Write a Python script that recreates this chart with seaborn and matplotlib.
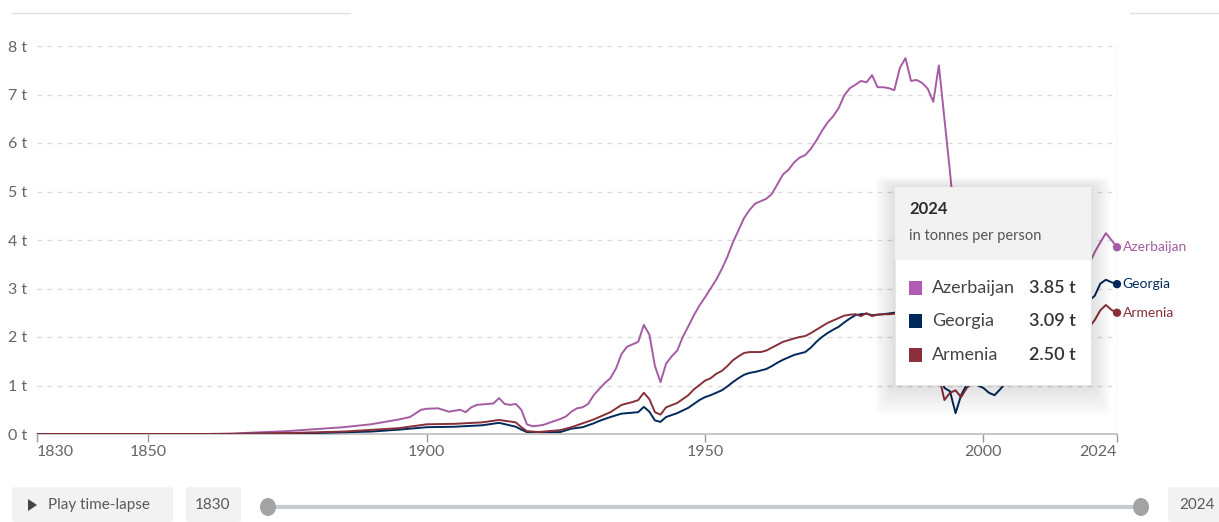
import pandas as pd
import seaborn as sns
import matplotlib.pyplot as plt
from matplotlib.patches import FancyBboxPatch, Rectangle, Polygon, Ellipse
from matplotlib.lines import Line2D

# CO2 per person, tonnes
aze_years = [1830, 1860, 1865, 1875, 1885, 1890, 1895, 1897, 1899, 1900, 1902, 1904, 1906, 1907, 1908,
             1909, 1911, 1912, 1913, 1914, 1915, 1916, 1917, 1918, 1919, 1920, 1921, 1922, 1923, 1924,
             1925, 1926, 1927, 1928, 1929, 1930, 1931, 1932, 1933, 1934, 1935, 1936, 1937, 1938, 1939,
             1940, 1941, 1942, 1943, 1944, 1945, 1946, 1947, 1948, 1949, 1950, 1951, 1952, 1953, 1954,
             1955, 1956, 1957, 1958, 1959, 1960, 1961, 1962, 1963, 1964, 1965, 1966, 1967, 1968, 1969,
             1970, 1971, 1972, 1973, 1974, 1975, 1976, 1977, 1978, 1979, 1980, 1981, 1982, 1983, 1984,
             1985, 1986, 1987, 1988, 1989, 1990, 1991, 1992, 1993, 1994, 1995, 1996, 1997, 1998, 2000,
             2002, 2004, 2006, 2008, 2010, 2012, 2014, 2016, 2018, 2019, 2020, 2021, 2022, 2023, 2024]
aze_values = [0, 0, 0.01, 0.06, 0.14, 0.2, 0.3, 0.35, 0.5, 0.52, 0.53, 0.46, 0.5, 0.45, 0.55,
              0.6, 0.62, 0.63, 0.74, 0.62, 0.6, 0.62, 0.5, 0.2, 0.16, 0.17, 0.19, 0.23, 0.27, 0.31,
              0.36, 0.46, 0.53, 0.55, 0.62, 0.8, 0.93, 1.05, 1.15, 1.35, 1.65, 1.8, 1.85, 1.9, 2.25,
              2.05, 1.4, 1.07, 1.45, 1.6, 1.72, 2.0, 2.22, 2.45, 2.65, 2.82, 3.0, 3.18, 3.4, 3.65,
              3.95, 4.2, 4.45, 4.62, 4.75, 4.8, 4.85, 4.95, 5.15, 5.35, 5.45, 5.6, 5.7, 5.75, 5.88,
              6.05, 6.25, 6.42, 6.55, 6.72, 6.98, 7.13, 7.2, 7.28, 7.25, 7.4, 7.15, 7.15, 7.13, 7.09,
              7.55, 7.75, 7.28, 7.3, 7.24, 7.12, 6.85, 7.6, 6.5, 5.4, 4.2, 3.7, 3.5, 3.6, 3.55,
              3.6, 3.9, 4.1, 3.6, 3.3, 3.5, 3.7, 3.75, 3.6, 3.5, 3.75, 3.95, 4.14, 4.0, 3.85]

geo_years = [1830, 1865, 1880, 1890, 1895, 1900, 1905, 1910, 1913, 1916, 1917, 1918, 1924, 1926, 1928,
             1930, 1931, 1933, 1935, 1938, 1939, 1940, 1941, 1942, 1943, 1945, 1947, 1948, 1949, 1950,
             1951, 1952, 1953, 1954, 1955, 1956, 1957, 1958, 1959, 1960, 1961, 1962, 1963, 1964, 1965,
             1966, 1967, 1968, 1969, 1970, 1971, 1972, 1973, 1974, 1975, 1976, 1977, 1978, 1979, 1980,
             1982, 1984, 1986, 1988, 1990, 1991, 1992, 1993, 1994, 1995, 1996, 1997, 1998, 1999, 2000,
             2001, 2002, 2003, 2004, 2006, 2008, 2010, 2012, 2014, 2016, 2018, 2019, 2020, 2021, 2022,
             2023, 2024]
geo_values = [0, 0, 0.02, 0.05, 0.09, 0.14, 0.15, 0.18, 0.23, 0.15, 0.09, 0.04, 0.04, 0.11, 0.14,
              0.22, 0.27, 0.35, 0.42, 0.45, 0.56, 0.46, 0.28, 0.25, 0.35, 0.43, 0.54, 0.62, 0.7, 0.76,
              0.8, 0.85, 0.9, 0.98, 1.07, 1.15, 1.22, 1.26, 1.28, 1.31, 1.34, 1.4, 1.47, 1.53, 1.58,
              1.63, 1.66, 1.69, 1.78, 1.9, 2.0, 2.08, 2.15, 2.21, 2.3, 2.38, 2.45, 2.47, 2.48, 2.45,
              2.47, 2.5, 2.55, 2.6, 2.4, 1.8, 1.3, 0.95, 0.88, 0.43, 0.8, 1.02, 1.1, 1.0, 0.95,
              0.85, 0.8, 0.92, 1.05, 1.3, 1.4, 1.5, 1.9, 2.1, 2.4, 2.6, 2.75, 2.85, 3.1, 3.18,
              3.13, 3.09]

arm_years = [1830, 1865, 1875, 1885, 1895, 1900, 1905, 1910, 1913, 1916, 1917, 1918, 1920, 1924, 1926,
             1928, 1930, 1931, 1933, 1935, 1937, 1938, 1939, 1940, 1941, 1942, 1943, 1945, 1947, 1948,
             1949, 1950, 1951, 1952, 1953, 1954, 1955, 1956, 1957, 1958, 1960, 1961, 1962, 1964, 1966,
             1967, 1968, 1969, 1970, 1971, 1972, 1973, 1974, 1975, 1976, 1977, 1978, 1979, 1980, 1981,
             1982, 1983, 1984, 1986, 1988, 1990, 1991, 1992, 1993, 1994, 1995, 1996, 1997, 1998, 2000,
             2005, 2008, 2010, 2015, 2018, 2019, 2020, 2021, 2022, 2023, 2024]
arm_values = [0, 0, 0.02, 0.05, 0.12, 0.2, 0.21, 0.24, 0.29, 0.24, 0.14, 0.06, 0.04, 0.08, 0.14,
              0.22, 0.3, 0.35, 0.45, 0.6, 0.66, 0.7, 0.85, 0.72, 0.45, 0.4, 0.55, 0.64, 0.8, 0.92,
              1.01, 1.1, 1.15, 1.24, 1.3, 1.4, 1.52, 1.6, 1.67, 1.69, 1.69, 1.72, 1.78, 1.9, 1.97,
              2.0, 2.02, 2.08, 2.15, 2.22, 2.29, 2.34, 2.39, 2.44, 2.46, 2.47, 2.43, 2.49, 2.43, 2.46,
              2.47, 2.47, 2.48, 2.5, 2.5, 2.3, 1.6, 1.2, 0.7, 0.85, 0.9, 0.76, 0.95, 1.05, 1.1,
              1.5, 1.9, 1.5, 1.8, 2.0, 2.2, 2.35, 2.55, 2.66, 2.56, 2.50]

countries = ['Azerbaijan', 'Georgia', 'Armenia']
line_colors = ['#a65ca3', '#00295b', '#883039']
swatch_colors = ['#b25bb5', '#00295b', '#8c2f3c']
x_ticks = [1830, 1850, 1900, 1950, 2000, 2024]
y_ticks = [0, 1, 2, 3, 4, 5, 6, 7, 8]

df = pd.concat([
    pd.DataFrame({'year': aze_years, 'value': aze_values, 'country': 'Azerbaijan'}),
    pd.DataFrame({'year': geo_years, 'value': geo_values, 'country': 'Georgia'}),
    pd.DataFrame({'year': arm_years, 'value': arm_values, 'country': 'Armenia'}),
])
last = df[df['year'] == 2024].set_index('country').loc[countries]

sns.set_style('white')
plt.rcParams['font.family'] = ['Lato', 'DejaVu Sans']
plt.rcParams['lines.scale_dashes'] = False

W, H = 1219, 522
fig = plt.figure(figsize=(W / 100, H / 100), dpi=100)
fig.patch.set_facecolor('white')


def fx(x):
    return x / W


def fy(y):
    return 1 - y / H


ax = fig.add_axes([fx(37), fy(434), fx(1117) - fx(37), fy(46) - fy(434)])
ax.set_facecolor('white')

for v in y_ticks[1:]:
    ax.axhline(v, color='#dcdcdc', lw=1, dashes=(3.6, 3.6), zorder=0)
ax.axvline(2024, color='#e2e2e2', lw=1, zorder=0)

sns.lineplot(data=df, x='year', y='value', hue='country', hue_order=countries,
             palette=line_colors, linewidth=1.4, legend=False, ax=ax, zorder=3)

ax.scatter([2024] * 3, last['value'], s=36, c=line_colors, zorder=5, linewidths=0, clip_on=False)
for c, col in zip(countries, line_colors):
    ax.annotate(c, (2024, last.loc[c, 'value']), xytext=(4, 0), textcoords='offset points',
                ha='left', va='center', fontsize=10, color=col, annotation_clip=False)

ax.set_xlim(1830, 2024)
ax.set_ylim(0, 8)
for s in ['top', 'right', 'left']:
    ax.spines[s].set_visible(False)
ax.spines['bottom'].set_color('#bdbdbd')
ax.spines['bottom'].set_linewidth(1.2)
ax.set_xticks(x_ticks)
ax.set_xticklabels([str(t) for t in x_ticks])
ax.set_yticks(y_ticks)
ax.set_yticklabels([f'{t} t' for t in y_ticks])
ax.tick_params(axis='x', colors='#999999', labelcolor='#666666', length=6, width=1,
               labelsize=11.5, pad=2, bottom=True)
ax.tick_params(axis='y', length=0, labelcolor='#666666', labelsize=11.5, pad=7)
labels = ax.get_xticklabels()
labels[0].set_ha('left')
labels[-1].set_ha('right')
ax.set_xlabel('')
ax.set_ylabel('')

# tooltip with soft shadow
bx0, by0, bx1, by1 = 895, 187, 1091, 385
for i in range(10, 0, -1):
    fig.add_artist(FancyBboxPatch((fx(bx0 - i * 2), fy(by1 + i * 3)), fx(bx1 - bx0 + i * 4),
                                  fy(by0 - i) - fy(by1 + i * 3),
                                  boxstyle='round,pad=0,rounding_size=0.006',
                                  transform=fig.transFigure, fc='#000000', ec='none',
                                  alpha=0.011, zorder=8))
fig.add_artist(Rectangle((fx(bx0), fy(by1)), fx(bx1 - bx0), fy(by0) - fy(by1),
                         transform=fig.transFigure, fc='white', ec='#e6e6e6', lw=0.8, zorder=9))
fig.add_artist(Rectangle((fx(bx0), fy(260)), fx(bx1 - bx0), fy(by0) - fy(260),
                         transform=fig.transFigure, fc='#f2f2f2', ec='none', zorder=9))
fig.text(fx(909), fy(209), '2024', fontsize=12, fontweight='bold', color='#2d2d2d',
         va='center', zorder=10)
fig.text(fx(909), fy(236), 'in tonnes per person', fontsize=10.5, color='#555555',
         va='center', zorder=10)
row_y = [288, 321, 355]
for c, sc, ry in zip(countries, swatch_colors, row_y):
    fig.add_artist(Rectangle((fx(909), fy(ry + 7)), fx(13), fy(ry - 7) - fy(ry + 7),
                             transform=fig.transFigure, fc=sc, ec='none', zorder=10))
    fig.text(fx(932), fy(ry), c, fontsize=13, color='#444444', va='center', zorder=10)
    fig.text(fx(1076), fy(ry), f"{last.loc[c, 'value']:.2f} t", fontsize=13, color='#333333',
             fontweight='semibold', va='center', ha='right', zorder=10)

# top tab borders
fig.add_artist(Line2D([fx(12), fx(350)], [fy(13), fy(13)], color='#e0e0e0', lw=1))
fig.add_artist(Line2D([fx(1130), fx(1219)], [fy(13), fy(13)], color='#e0e0e0', lw=1))

# timeline controls
for x0, x1 in [(12, 173), (186, 241), (1168, 1225)]:
    fig.add_artist(FancyBboxPatch((fx(x0), fy(522)), fx(x1 - x0), fy(487) - fy(522),
                                  boxstyle='round,pad=0,rounding_size=0.004',
                                  transform=fig.transFigure, fc='#f2f2f2', ec='none'))
fig.add_artist(Polygon([(fx(28), fy(499)), (fx(28), fy(511)), (fx(37), fy(505))],
                       closed=True, transform=fig.transFigure, fc='#444444', ec='none'))
fig.text(fx(48), fy(505), 'Play time-lapse', fontsize=11, color='#5a5a5a', va='center')
fig.text(fx(213), fy(505), '1830', fontsize=11, color='#5a5a5a', va='center', ha='center')
fig.text(fx(1197), fy(505), '2024', fontsize=11, color='#5a5a5a', va='center', ha='center')
fig.add_artist(Line2D([fx(268), fx(1141)], [fy(507), fy(507)], color='#c6cbd0', lw=3,
                      solid_capstyle='round'))
for kx in [268, 1141]:
    fig.add_artist(Ellipse((fx(kx), fy(507)), fx(16), fy(498) - fy(516),
                           transform=fig.transFigure, fc='#a3a3a3', ec='none', zorder=5))

fig.savefig('out.png', dpi=100, facecolor='white')
